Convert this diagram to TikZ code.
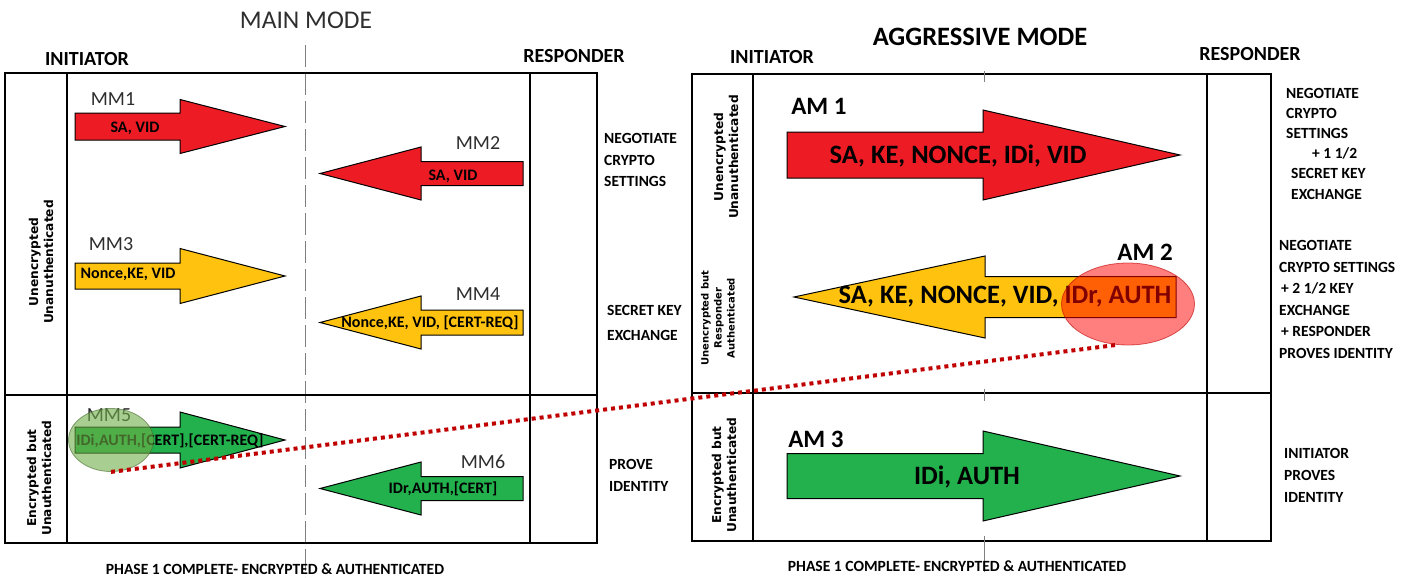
\documentclass[tikz,border=0pt]{standalone}
\usepackage{fontspec}
\setmainfont{Carlito}
\newfontfamily\rowfont{DejaVu Sans}
\usetikzlibrary{shapes.geometric}

\definecolor{msgred}{HTML}{ED1C24}
\definecolor{msgyellow}{HTML}{FFC20E}
\definecolor{msggreen}{HTML}{22B14C}
\definecolor{hilitegreen}{HTML}{70AD47}
\definecolor{dotred}{HTML}{C00000}
\definecolor{labelgray}{HTML}{2E2E2E}

% block arrow: tail x, head base x, tip x, centre y, half body, half head, fill
\newcommand\msgarrow[7]{%
  \filldraw[arrowshape, fill=#7]
    (#1,#4-#5) -- (#2,#4-#5) -- (#2,#4-#6) -- (#3,#4) --
    (#2,#4+#6) -- (#2,#4+#5) -- (#1,#4+#5) -- cycle;}

\begin{document}
\begin{tikzpicture}[x=1pt, y=-1pt,
  frame/.style={line width=1.1pt, black},
  sepline/.style={line width=2.6pt, black},
  arrowshape/.style={draw=black, line width=1pt, line join=miter},
  title/.style={font=\fontsize{25.5}{28}\selectfont, text=labelgray, inner sep=0pt},
  titlebold/.style={font=\fontsize{26.5}{30}\selectfont\bfseries, inner sep=0pt},
  party/.style={font=\fontsize{20}{22}\selectfont\bfseries, inner sep=0pt},
  mmlabel/.style={font=\fontsize{20}{22}\selectfont, text=labelgray, inner sep=0pt},
  amlabel/.style={font=\fontsize{25}{28}\selectfont\bfseries, inner sep=0pt},
  mmtext/.style={font=\fontsize{16}{18}\selectfont\bfseries, inner sep=0pt},
  amtext/.style={font=\fontsize{26.5}{30}\selectfont\bfseries, inner sep=0pt},
  sidenote/.style={font=\fontsize{15.5}{21.5}\selectfont\bfseries, align=left, anchor=west, inner sep=0pt},
  rowlbl/.style={font=\rowfont\bfseries\fontsize{12.2}{15}\selectfont, align=center, rotate=90, inner sep=0pt},
  rowlblsmall/.style={font=\rowfont\bfseries\fontsize{10}{13}\selectfont, align=center, rotate=90, inner sep=0pt},
  phase/.style={font=\fontsize{15.6}{18}\selectfont\bfseries, inner sep=0pt},
  centerline/.style={gray, line width=0.9pt},
  dots/.style={dotred, line width=4pt, dash pattern=on 4pt off 4pt}
]
\useasboundingbox (0,0) rectangle (1411,578);

% ---------------- MAIN MODE ----------------
\draw[centerline, dash pattern=on 22pt off 6pt] (305,45) -- (305,577);
\draw[frame] (5,73) rectangle (597,543);
\draw[frame] (67,73) -- (67,543);
\draw[frame] (530,73) -- (530,543);
\draw[sepline] (5,395) -- (597,395);

\node[title] (mmtitle) at (306,20) {MAIN MODE};
\node[party] (mmini) at (87,59) {INITIATOR};
\node[party] (mmresp) at (574,56) {RESPONDER};

\node[rowlbl] (mmrow1) at (41,262) {Unencrypted\\Unanuthenticated};
\node[rowlbl] (mmrow2) at (39,478) {Encrypted but\\Unauthenticated};

% messages
\msgarrow{75}{180}{285}{126.5}{13.5}{27}{msgred}
\msgarrow{523}{421}{320}{173.5}{12}{26.5}{msgred}
\msgarrow{75}{180}{285}{276}{13}{27.5}{msgyellow}
\msgarrow{523}{421}{320}{322.5}{12.5}{26.5}{msgyellow}
\msgarrow{75}{180}{285}{440}{13}{28}{msggreen}
\msgarrow{523}{421}{320}{488.5}{12}{26.5}{msggreen}

\node[mmlabel] (mm1) at (113,99) {MM1};
\node[mmlabel] (mm2) at (478,143) {MM2};
\node[mmlabel] (mm3) at (111,244) {MM3};
\node[mmlabel] (mm4) at (478,294) {MM4};
\node[mmlabel] (mm5) at (109,415) {MM5};
\node[mmlabel] (mm6) at (483,462) {MM6};

\node[mmtext] (mm1t) at (135,128) {SA, VID};
\node[mmtext] (mm2t) at (453,176) {SA, VID};
\node[mmtext] (mm3t) at (128,274) {Nonce,KE, VID};
\node[mmtext] (mm4t) at (430,323) {Nonce,KE, VID, [CERT-REQ]};
\node[mmtext] (mm5t) at (170,441) {IDi,AUTH,[CERT],[CERT-REQ]};
\node[mmtext] (mm6t) at (443,489) {IDr,AUTH,[CERT]};

\node[sidenote] (mmn1) at (604,160) {NEGOTIATE\\CRYPTO\\SETTINGS};
\node[sidenote, font=\fontsize{15.5}{25}\selectfont\bfseries] (mmn2) at (607,323) {SECRET KEY\\EXCHANGE};
\node[sidenote] (mmn3) at (609,475.5) {PROVE\\IDENTITY};

\node[phase] (mmphase) at (275,569) {PHASE 1 COMPLETE- ENCRYPTED \& AUTHENTICATED};

% ---------------- AGGRESSIVE MODE ----------------
\draw[frame] (692,74) rectangle (1271,541);
\draw[frame] (753,74) -- (753,541);
\draw[frame] (1207,74) -- (1207,541);
\draw[sepline] (692,393) -- (1271,393);
\draw[centerline] (984,71) -- (984,82);
\draw[centerline] (984,389) -- (984,401);
\draw[centerline] (984,536) -- (984,572);

\node[titlebold] (amtitle) at (980,37) {AGGRESSIVE MODE};
\node[party] (amini) at (772,57) {INITIATOR};
\node[party] (amresp) at (1250,54) {RESPONDER};

\node[rowlbl] (amrow1) at (726,157) {Unencrypted\\Unanuthenticated};
\node[rowlblsmall] (amrow2) at (718,318) {Unencrypted but\\Responder\\Authenticated};
\node[rowlbl] (amrow3) at (724,475) {Encrypted but\\Unauthenticated};

\msgarrow{787}{983}{1180}{155}{23}{45}{msgred}
\msgarrow{1176}{985}{794}{297}{20.5}{41}{msgyellow}
\msgarrow{787}{983}{1180}{476}{22.5}{45}{msggreen}

\node[amlabel] (am1) at (819,106) {AM 1};
\node[amlabel] (am2) at (1145,252) {AM 2};
\node[amlabel] (am3) at (816,439) {AM 3};

\node[amtext] (am1t) at (958,156) {SA, KE, NONCE, IDi, VID};
\node[amtext] (am2t) at (1005,297) {SA, KE, NONCE, VID, IDr, AUTH};
\node[amtext] (am3t) at (967,477) {IDi, AUTH};

\node[sidenote, font=\fontsize{15.5}{20.2}\selectfont\bfseries] (amn1) at (1286,143.5)
  {NEGOTIATE\\CRYPTO\\SETTINGS\\\hspace*{26pt}+ 1 1/2\\\hspace*{5pt}SECRET KEY\\\hspace*{5pt}EXCHANGE};
\node[sidenote] (amn2) at (1279,299.5)
  {NEGOTIATE\\CRYPTO SETTINGS\\\hspace*{2pt}+ 2 1/2 KEY\\EXCHANGE\\\hspace*{2pt}+ RESPONDER\\PROVES IDENTITY};
\node[sidenote, font=\fontsize{15.5}{22}\selectfont\bfseries] (amn3) at (1284,475)
  {INITIATOR\\PROVES\\IDENTITY};

\node[phase] (amphase) at (957,566) {PHASE 1 COMPLETE- ENCRYPTED \& AUTHENTICATED};

% ---------------- identity highlights ----------------
\node[ellipse, minimum width=85pt, minimum height=63pt, inner sep=0pt,
      fill=hilitegreen, fill opacity=0.6, draw=hilitegreen!60!black, draw opacity=0.6, line width=0.8pt]
      (idi) at (111,440) {};
\node[ellipse, minimum width=133pt, minimum height=82pt, inner sep=0pt,
      fill=red, fill opacity=0.5, draw=red!75!black, draw opacity=0.6, line width=0.8pt]
      (idr) at (1128,304) {};

\draw[dots] (idi.south) -- (idr.255);

\end{tikzpicture}
\end{document}
